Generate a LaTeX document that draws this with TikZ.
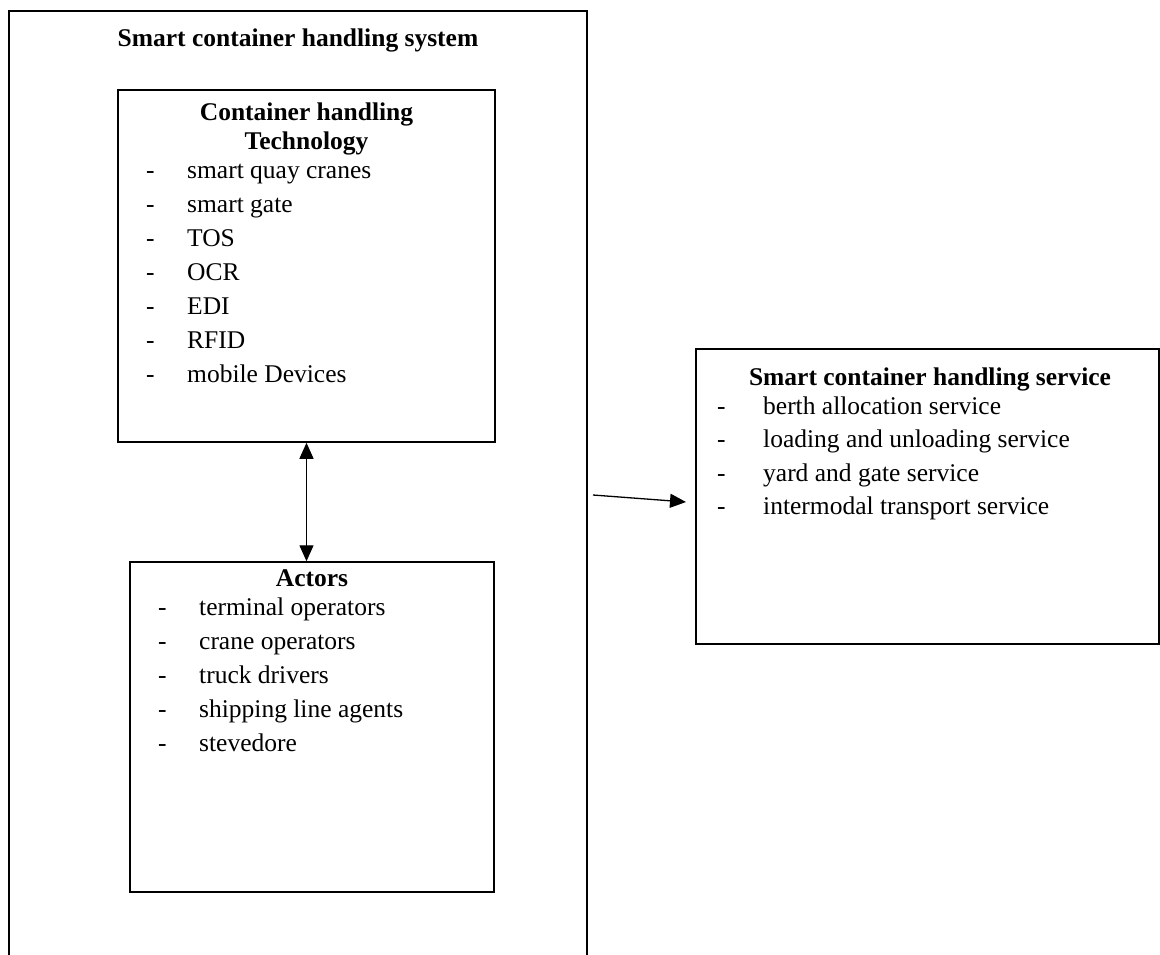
\documentclass[tikz,border=0pt]{standalone}
\usepackage{fontspec}
\setmainfont{Liberation Serif}
\usetikzlibrary{arrows.meta}
\tikzset{box/.style={draw, line width=1.5, inner sep=0pt},
  ttl/.style={anchor=base, inner sep=0pt, font=\bfseries},
  itm/.style={anchor=base west, inner sep=0pt},
  tip/.style={-{Triangle[length=16,width=14]}, line width=1.3},
  dbl/.style={{Triangle[length=16,width=14]}-{Triangle[length=16,width=14]}, line width=1.3}}
\newcommand{\dsh}[2][41]{\makebox[#1pt][l]{-}#2}

\begin{document}
\fontsize{25.5}{30}\selectfont
\begin{tikzpicture}[x=1pt,y=-1pt]
  \useasboundingbox (0,0) rectangle (1160,954);
  \node[box, line width=2, minimum width=578, minimum height=989] (sysbox) at (298,505.5) {};
  \node[ttl] (systtl) at (298,46) {Smart container handling system};
  \node[box, minimum width=377, minimum height=352] (techbox) at (306.5,266) {};
  \node[ttl] (techttl1) at (306.5,120) {Container handling};
  \node[ttl] (techttl2) at (306.5,149) {Technology};
  \foreach \t [count=\i from 0] in {smart quay cranes, smart gate, TOS, OCR, EDI, RFID, mobile Devices}
    \node[itm] (techitm\i) at (146,{178+34*\i}) {\dsh{\t}};
  \node[box, minimum width=364, minimum height=330] (actbox) at (312,727) {};
  \node[ttl] (actttl) at (312,586) {Actors};
  \foreach \t [count=\i from 0] in {terminal operators, crane operators, truck drivers, shipping line agents, stevedore}
    \node[itm] (actitm\i) at (158,{615+34*\i}) {\dsh{\t}};
  \node[box, minimum width=463, minimum height=295] (svcbox) at (927.5,496.5) {};
  \node[ttl] (svcttl) at (930,385) {Smart container handling service};
  \foreach \t [count=\i from 0] in {berth allocation service, loading and unloading service, yard and gate service, intermodal transport service}
    \node[itm] (svcitm\i) at (717,{414+33.5*\i}) {\dsh[46]{\t}};
  \draw[dbl] (techbox.south) -- (techbox.south |- actbox.north);
  \coordinate (sysout) at (593,495);
  \coordinate (svcin) at (686,502);
  \draw[tip] (sysout) -- (svcin);
\end{tikzpicture}
\end{document}
